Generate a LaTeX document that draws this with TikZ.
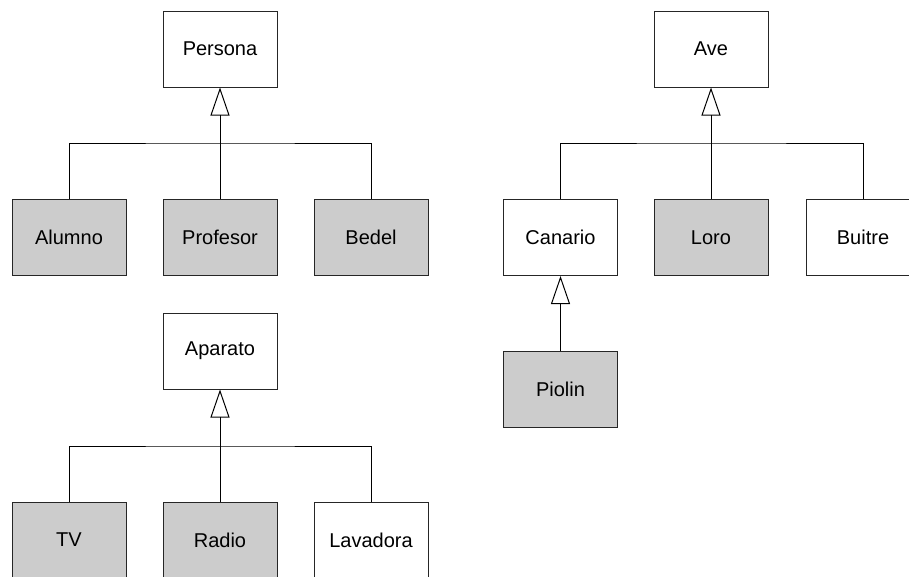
\documentclass[tikz,border=0pt]{standalone}
\usepackage{fontspec}
\setmainfont{Liberation Sans}
\usetikzlibrary{arrows.meta}
\definecolor{boxgray}{HTML}{CCCCCC}
\begin{document}
\begin{tikzpicture}[x=1pt,y=-1pt,
  cls/.style={draw=black!85, line width=1pt, minimum width=114pt, minimum height=76pt, inner sep=0pt, font=\fontsize{20}{24}\selectfont, fill=white},
  shaded/.style={cls, fill=boxgray},
  conn/.style={draw=black, line width=1pt},
  gen/.style={conn, -{Triangle[open, length=28pt, width=19pt, line width=1pt]}}]
\useasboundingbox (0,0) rectangle (909,576);
\clip (0,0) rectangle (909,576);
% Persona tree
\node[cls] (persona) at (220,49) {Persona};
\node[shaded] (alumno) at (69,237.5) {Alumno};
\node[shaded] (profesor) at (220,237.5) {Profesor};
\node[shaded] (bedel) at (371,237.5) {Bedel};
\coordinate (b1) at (220,143);
\draw[conn] (alumno.north) |- (b1) -| (bedel.north);
\draw[gen] (profesor.north) -- (persona.south);
% Ave tree
\node[cls] (ave) at (711,49) {Ave};
\node[cls] (canario) at (560.5,237.5) {Canario};
\node[shaded] (loro) at (711,237.5) {Loro};
\node[cls] (buitre) at (863,237.5) {Buitre};
\node[shaded] (piolin) at (560.5,389) {Piolin};
\coordinate (b2) at (711,143);
\draw[conn] (canario.north) |- (b2) -| (buitre.north);
\draw[gen] (loro.north) -- (ave.south);
\draw[gen] (piolin.north) -- (canario.south);
% Aparato tree
\node[cls] (aparato) at (220,351) {Aparato};
\node[shaded] (tv) at (69,540) {TV};
\node[shaded] (radio) at (220,540) {Radio};
\node[cls] (lavadora) at (371,540) {Lavadora};
\coordinate (b3) at (220,446);
\draw[conn] (tv.north) |- (b3) -| (lavadora.north);
\draw[gen] (radio.north) -- (aparato.south);
\end{tikzpicture}
\end{document}
